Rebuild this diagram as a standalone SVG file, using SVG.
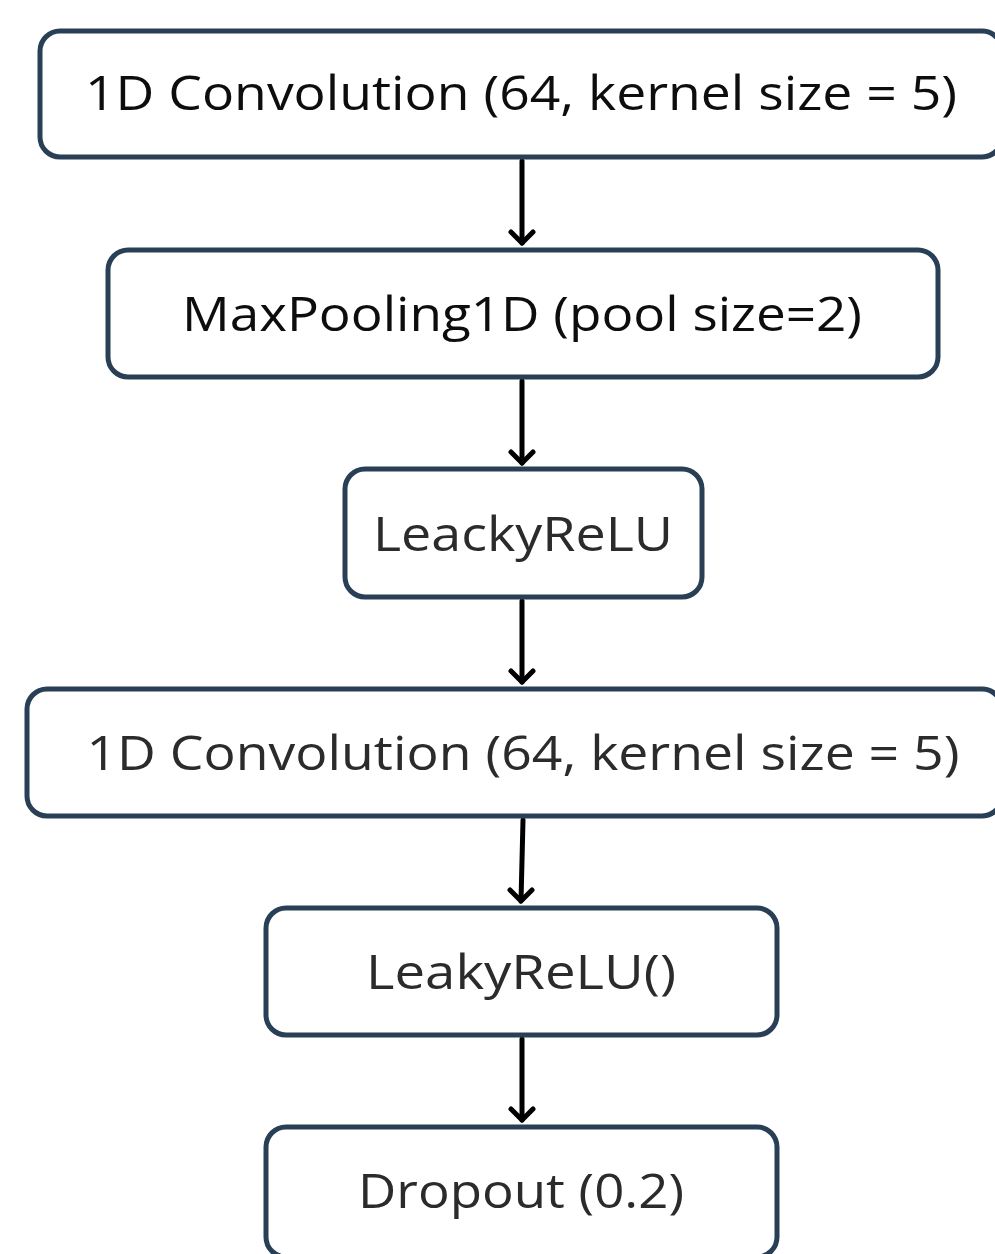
<svg xmlns="http://www.w3.org/2000/svg" width="995" height="1254" viewBox="0 0 995 1254">
<defs>
<style>
.box{fill:#ffffff;stroke:#283f55;stroke-width:5}
.lbl{font-family:"Open Sans","Lato","Liberation Sans",sans-serif;font-size:47px;fill:#2b2b2b;text-anchor:middle}
.dark{fill:#0d0d0d}
.conn{stroke:#000;stroke-width:5;fill:none;stroke-linecap:round;stroke-linejoin:round}
</style>
</defs>
<rect width="995" height="1254" fill="#ffffff"/>
<g id="connectors">
<line class="conn" x1="522" y1="161" x2="522" y2="243"/>
<path class="conn" d="M511,232 L522,243 L533,232"/>
<line class="conn" x1="522" y1="381" x2="522" y2="463"/>
<path class="conn" d="M511,452 L522,463 L533,452"/>
<line class="conn" x1="522" y1="601" x2="522" y2="682"/>
<path class="conn" d="M511,671 L522,682 L533,671"/>
<line class="conn" x1="523" y1="820" x2="521" y2="901"/>
<path class="conn" d="M510,890 L521,901 L532,890"/>
<line class="conn" x1="522" y1="1039" x2="522" y2="1120"/>
<path class="conn" d="M511,1109 L522,1120 L533,1109"/>
</g>
<g id="node1">
<rect class="box" x="40" y="31" width="962" height="126" rx="20"/>
<text class="lbl dark" x="521" y="110" textLength="872" lengthAdjust="spacingAndGlyphs">1D Convolution (64, kernel size = 5)</text>
</g>
<g id="node2">
<rect class="box" x="108" y="250" width="830" height="127" rx="20"/>
<text class="lbl dark" x="522" y="331" textLength="680" lengthAdjust="spacingAndGlyphs">MaxPooling1D (pool size=2)</text>
</g>
<g id="node3">
<rect class="box" x="345" y="469" width="357" height="128" rx="20"/>
<text class="lbl" x="523" y="551" textLength="300" lengthAdjust="spacingAndGlyphs">LeackyReLU</text>
</g>
<g id="node4">
<rect class="box" x="27" y="689" width="975" height="127" rx="20"/>
<text class="lbl" x="523" y="770" textLength="873" lengthAdjust="spacingAndGlyphs">1D Convolution (64, kernel size = 5)</text>
</g>
<g id="node5">
<rect class="box" x="266" y="908" width="511" height="127" rx="20"/>
<text class="lbl" x="521" y="989" textLength="310" lengthAdjust="spacingAndGlyphs">LeakyReLU()</text>
</g>
<g id="node6">
<rect class="box" x="266" y="1127" width="511" height="130" rx="20"/>
<text class="lbl" x="521" y="1208" textLength="326" lengthAdjust="spacingAndGlyphs">Dropout (0.2)</text>
</g>
</svg>
